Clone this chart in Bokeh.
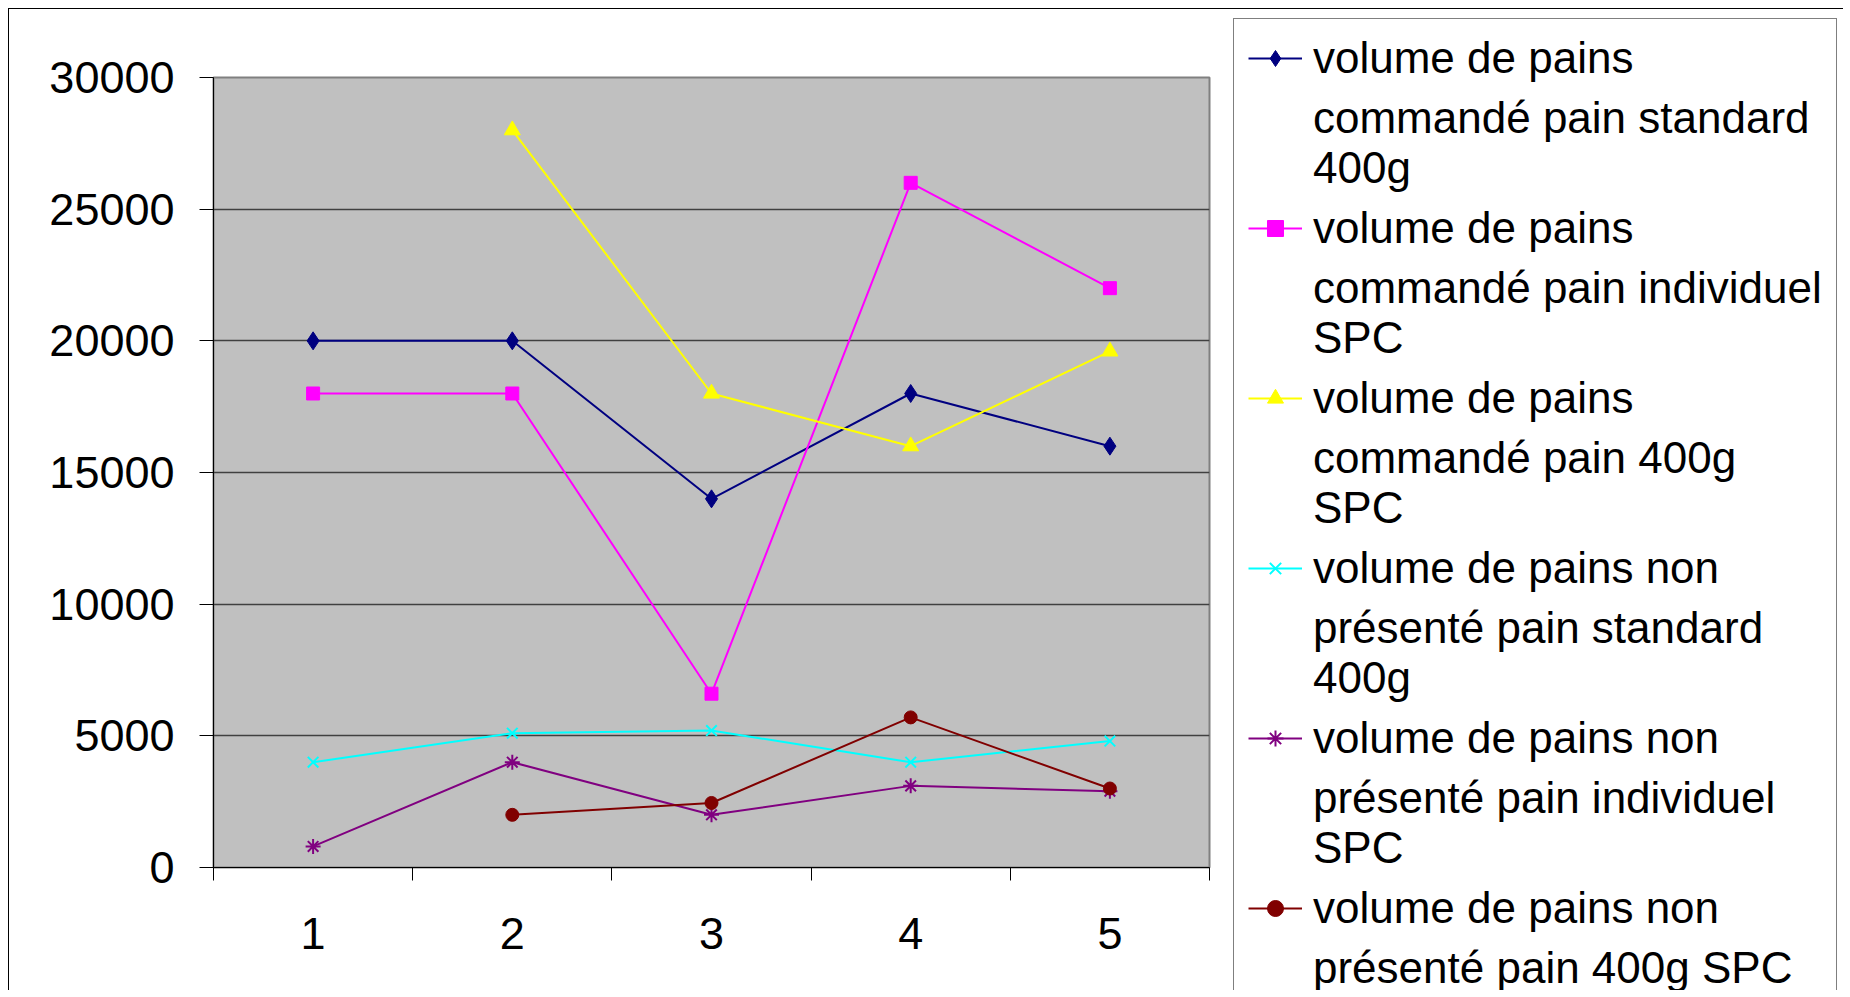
from bokeh.plotting import figure
from bokeh.models import Range1d, FixedTicker, Legend, LegendItem
from bokeh.layouts import row
from bokeh.embed import file_html
from bokeh.resources import INLINE

nan = float("nan")

categories = [1, 2, 3, 4, 5]
standard_cmd = [20000, 20000, 14000, 18000, 16000]
indiv_cmd = [18000, 18000, 6600, 26000, 22000]
p400_cmd = [nan, 28000, 18000, 16000, 19600]
standard_np = [4000, 5100, 5200, 4000, 4800]
indiv_np = [800, 4000, 2000, 3100, 2900]
p400_np = [nan, 2000, 2450, 5700, 3000]

series_labels = [
    ["volume de pains", "commandé pain standard\n400g"],
    ["volume de pains", "commandé pain individuel\nSPC"],
    ["volume de pains", "commandé pain 400g\nSPC"],
    ["volume de pains non", "présenté pain standard\n400g"],
    ["volume de pains non", "présenté pain individuel\nSPC"],
    ["volume de pains non", "présenté pain 400g SPC"],
]
y_ticks = [0, 5000, 10000, 15000, 20000, 25000, 30000]
x_labels = {1: "1", 2: "2", 3: "3", 4: "4", 5: "5"}

FONT = "Liberation Sans"
FS = "45px"
H = 981

p = figure(width=1202, height=H, output_backend="svg", toolbar_location=None,
           x_range=Range1d(0.5, 5.5), y_range=Range1d(0, 30000),
           min_border_left=204, min_border_top=68, min_border_right=2,
           min_border_bottom=123, background_fill_color="#C0C0C0",
           border_fill_color="white", outline_line_color="#808080",
           outline_line_width=2)

# axes
p.yaxis.ticker = FixedTicker(ticks=y_ticks)
p.yaxis.major_tick_out = 14
p.yaxis.major_tick_in = 0
p.yaxis.minor_tick_out = 0
p.yaxis.minor_tick_in = 0
p.yaxis.major_label_standoff = 25
p.yaxis.major_label_text_font = FONT
p.yaxis.major_label_text_font_size = FS
p.yaxis.major_label_text_color = "black"
p.yaxis.axis_line_color = "black"
p.yaxis.major_tick_line_color = "black"

p.xaxis.ticker = FixedTicker(ticks=categories, minor_ticks=[0.5, 1.5, 2.5, 3.5, 4.5, 5.5])
p.xaxis.major_label_overrides = x_labels
p.xaxis.major_tick_out = 0
p.xaxis.major_tick_in = 0
p.xaxis.minor_tick_out = 13
p.xaxis.minor_tick_in = 0
p.xaxis.minor_tick_line_color = "black"
p.xaxis.major_label_standoff = 37
p.xaxis.major_label_text_font = FONT
p.xaxis.major_label_text_font_size = FS
p.xaxis.major_label_text_color = "black"
p.xaxis.axis_line_color = "black"

p.xgrid.grid_line_color = None
p.ygrid.grid_line_color = "#404040"
p.ygrid.grid_line_width = 1.5

# legend panel figure
p2 = figure(width=1834 - 1202, height=H, output_backend="svg", toolbar_location=None,
            x_range=Range1d(100, 101), y_range=Range1d(100, 101),
            x_axis_type=None, y_axis_type=None,
            min_border_left=13, min_border_top=0, min_border_right=0,
            min_border_bottom=0, background_fill_color="white",
            border_fill_color="white", outline_line_color=None)
p2.frame_align = False
p2.grid.visible = False

series = [
    (standard_cmd, "#000080", "diamond", 18),
    (indiv_cmd, "#FF00FF", "square", 13),
    (p400_cmd, "#FFFF00", "triangle", 16),
    (standard_np, "#00FFFF", "x", 15),
    (indiv_np, "#800080", "asterisk", 15),
    (p400_np, "#800000", "circle", 13),
]

items = []
for (vals, color, marker, size), label in zip(series, series_labels):
    rs = []
    for fig in (p, p2):
        l = fig.line(categories, vals, line_color=color, line_width=2)
        if marker in ("x", "asterisk"):
            s = fig.scatter(categories, vals, marker=marker, size=size, line_color=color,
                            line_width=2)
        else:
            s = fig.scatter(categories, vals, marker=marker, size=size, fill_color=color,
                            line_color=color)
        rs.append((l, s))
    l2, s2 = rs[1]
    items.append(LegendItem(label=label[0], renderers=[l2, s2]))
    items.append(LegendItem(label=label[1], renderers=[]))

legend = Legend(items=items, location="top_left")
legend.label_text_font = FONT
legend.label_text_font_size = "44px"
legend.label_text_color = "black"
legend.label_text_line_height = 1.2
legend.glyph_width = 54
legend.glyph_height = 40
legend.label_standoff = 11
legend.padding = 14
legend.spacing = 10
legend.margin = 9
legend.border_line_color = "black"
legend.border_line_width = 1
legend.background_fill_color = "white"
legend.background_fill_alpha = 1
p2.add_layout(legend, "center")

layout = row(p, p2)
layout.styles = {"border-top": "1px solid black", "border-left": "1px solid black",
                 "margin-left": "8px", "margin-top": "8px"}

open("out.html", "w").write(file_html(layout, INLINE))
